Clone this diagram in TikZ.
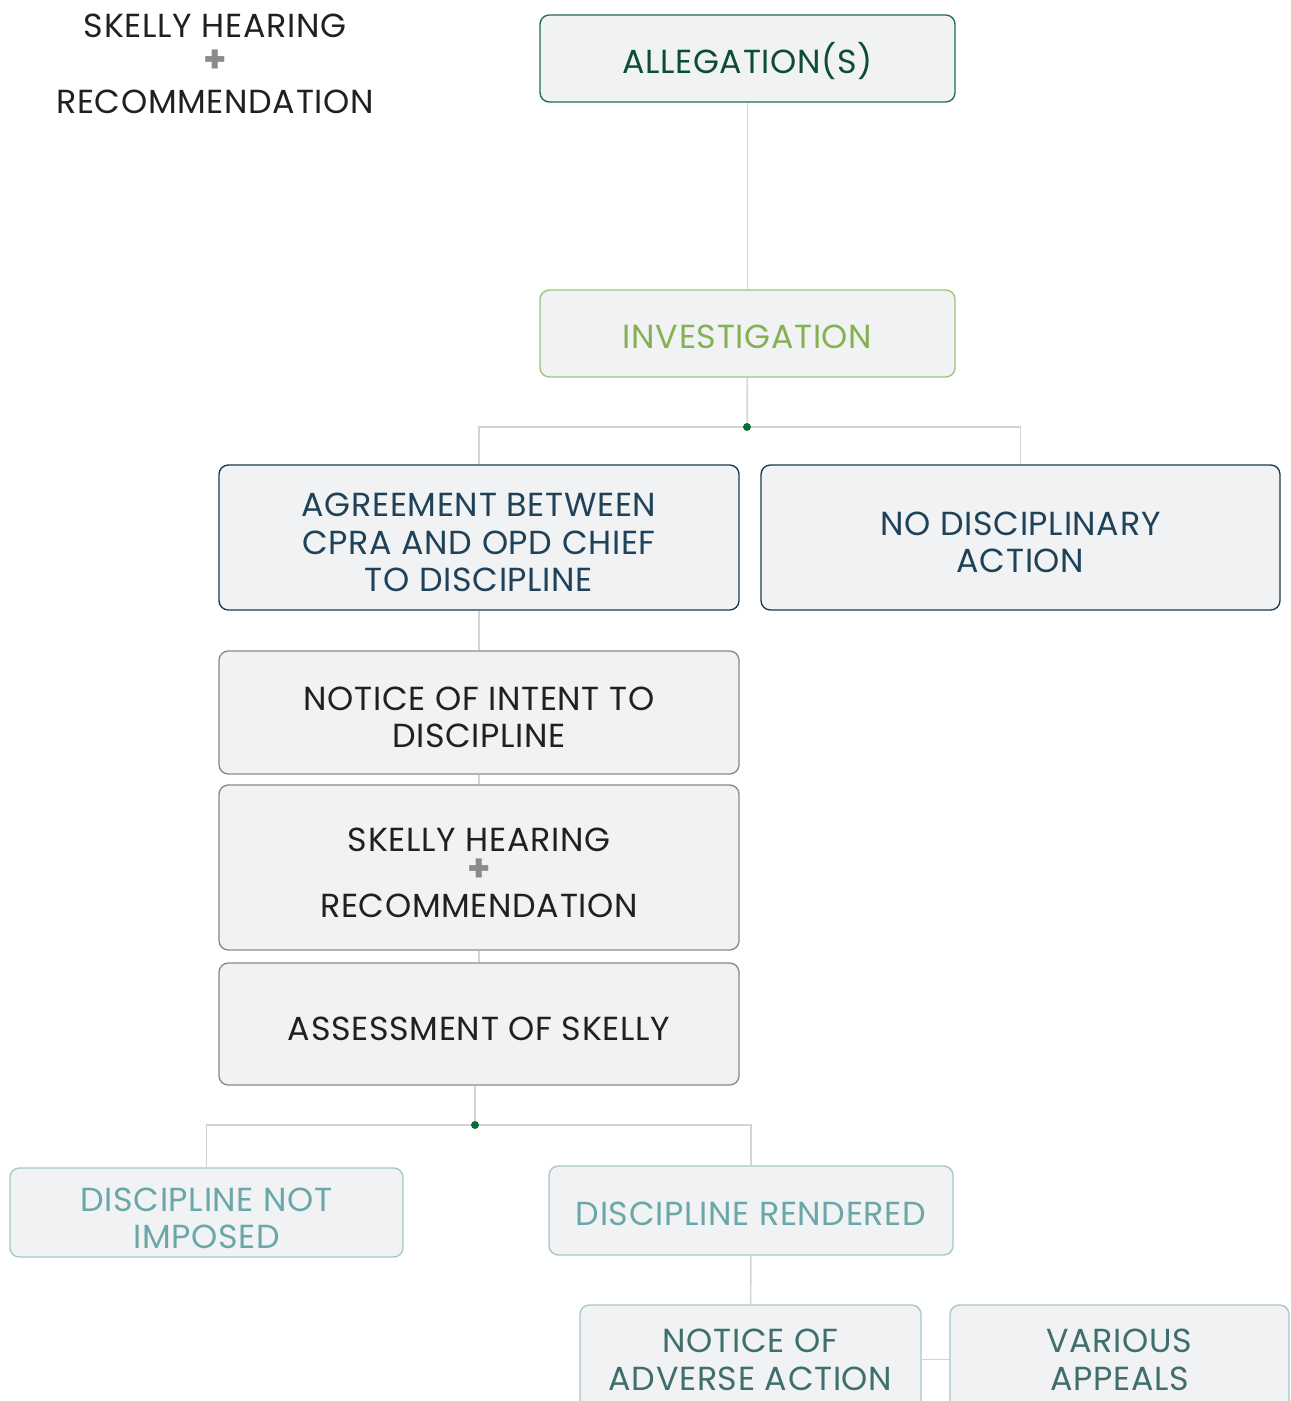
\documentclass[tikz,border=0pt]{standalone}
\usepackage{fontspec}
\setmainfont{Poppins}[LetterSpace=2]
\definecolor{boxfill}{HTML}{F1F2F4}
\definecolor{conncol}{HTML}{D3D3D3}
\definecolor{dotcol}{HTML}{0B6B3A}
\definecolor{allegB}{HTML}{1F6E4A}
\definecolor{allegT}{HTML}{0E4D35}
\definecolor{invB}{HTML}{9CC47C}
\definecolor{invT}{HTML}{86B153}
\definecolor{navyB}{HTML}{1C3A4E}
\definecolor{navyT}{HTML}{1F4259}
\definecolor{grayB}{HTML}{8A8A8A}
\definecolor{grayT}{HTML}{231F20}
\definecolor{tealB}{HTML}{A7C6C9}
\definecolor{tealT}{HTML}{6BA7A8}
\definecolor{tealD}{HTML}{3E6E6D}
\definecolor{plusgray}{HTML}{8A8A8A}
\newcommand\plussign{{\color{plusgray}\fontsize{28}{28}\selectfont\bfseries +}}
\newcommand\dn[1]{\rule{0pt}{#1pt}}
\begin{document}
\begin{tikzpicture}[x=0.75pt,y=-0.75pt,
  box/.style={draw, fill=boxfill, rounded corners=7pt, line width=1pt, align=center,
    inner sep=0pt, font=\fontsize{25}{28}\selectfont},
  conn/.style={draw=conncol, line width=1.1pt},
  dotmark/.style={fill=dotcol}]
\useasboundingbox (0,0) rectangle (1290,1401);
\clip (0,0) rectangle (1290,1401);
\fill[white] (0,0) rectangle (1290,1401);

% top-left caption
\node[align=center, text=grayT, font=\fontsize{25}{28}\selectfont] (cap) at (215,64)
  {SKELLY HEARING\\[-1.5pt]\plussign\\[2.5pt]RECOMMENDATION};

\node[box, draw=allegB, text=allegT, minimum width=415*0.75pt, minimum height=87*0.75pt] (alleg) at (747.5,58.5) {\dn{27}ALLEGATION(S)};
\node[box, draw=invB, text=invT, minimum width=415*0.75pt, minimum height=87*0.75pt] (inv) at (747.5,333.5) {\dn{22}INVESTIGATION};

\node[box, draw=navyB, text=navyT, minimum width=520*0.75pt, minimum height=145*0.75pt] (agree) at (479,537.5) {\dn{25}AGREEMENT BETWEEN\\CPRA AND OPD CHIEF\\TO DISCIPLINE};
\node[box, draw=navyB, text=navyT, minimum width=519*0.75pt, minimum height=145*0.75pt] (nodisc) at (1020.5,537.5) {\dn{25}NO DISCIPLINARY\\ACTION};

\node[box, draw=grayB, text=grayT, minimum width=520*0.75pt, minimum height=123*0.75pt] (intent) at (479,712.5) {\dn{25}NOTICE OF INTENT TO\\DISCIPLINE};
\node[box, draw=grayB, text=grayT, minimum width=520*0.75pt, minimum height=165*0.75pt] (skelly) at (479,867.5) {\dn{25}SKELLY HEARING\\[-5.5pt]\plussign\\[-1pt]RECOMMENDATION};
\node[box, draw=grayB, text=grayT, minimum width=520*0.75pt, minimum height=122*0.75pt] (assess) at (479,1024) {\dn{25}ASSESSMENT OF SKELLY};

\node[box, draw=tealB, text=tealT, minimum width=393*0.75pt, minimum height=89*0.75pt] (dni) at (206.5,1212.5) {\dn{26.5}DISCIPLINE NOT\\IMPOSED};
\node[box, draw=tealB, text=tealT, minimum width=404*0.75pt, minimum height=89*0.75pt] (dr) at (751,1210.5) {\dn{22}DISCIPLINE RENDERED};

\node[box, draw=tealB, text=tealD, minimum width=341*0.75pt, minimum height=109*0.75pt] (noaa) at (750.5,1359.5) {\dn{18}NOTICE OF\\ADVERSE ACTION};
\node[box, draw=tealB, text=tealD, minimum width=339*0.75pt, minimum height=109*0.75pt] (appeals) at (1119.5,1359.5) {\dn{18}VARIOUS\\APPEALS};

\coordinate (d1) at (747,427);
\coordinate (d2) at (475,1125);

\draw[conn] (alleg) -- (inv);
\draw[conn] (inv) -- (d1);
\draw[conn] (d1) -| (agree.north);
\draw[conn] (d1) -| (nodisc.north);
\draw[conn] (agree) -- (intent);
\draw[conn] (intent) -- (skelly);
\draw[conn] (skelly) -- (assess);
\draw[conn] (d2) -- (d2 |- assess.south);
\draw[conn] (d2) -| (dni.north);
\draw[conn] (d2) -| (dr.north);
\draw[conn] (dr) -- (noaa);
\draw[conn] (noaa) -- (appeals);
\fill[dotmark] (d1) circle (3pt);
\fill[dotmark] (d2) circle (3pt);
\end{tikzpicture}
\end{document}
